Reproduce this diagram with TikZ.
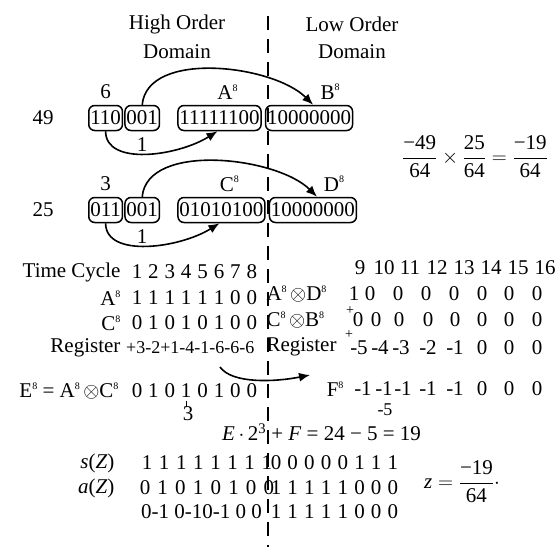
\documentclass[tikz,border=0pt]{standalone}
\usepackage{amsmath}
\usepackage{fontspec}
\setmainfont{Liberation Serif}
\usetikzlibrary{arrows.meta,positioning}

\newcommand{\pw}[1]{#1\raisebox{0.85ex}{\fontsize{10}{10}\selectfont 8}}
\newcommand{\fr}[2]{\dfrac{\text{#1}}{\text{#2}}}

\begin{document}
\begin{tikzpicture}[x=1pt, y=-1pt, >={Latex[length=11pt,width=9pt]},
  font=\fontsize{21}{23}\selectfont,
  bits/.style={draw, rounded corners=6pt, line width=1.5pt, inner xsep=1.5pt, inner ysep=0pt, minimum height=25pt},
  link/.style={->, line width=1.6pt},
  small/.style={font=\fontsize{14}{14}\selectfont, inner sep=0pt}]
  \useasboundingbox (0,0) rectangle (555,547);

  \coordinate (T) at (268,16);
  \coordinate (Bt) at (268,547);
  \draw[line width=1.6pt, dash pattern=on 14pt off 9pt] (T) -- (Bt);

  \node (hi1) at (177,24) {High Order};
  \node (hi2) at (177,52) {Domain};
  \node (lo1) at (352,24) {Low Order};
  \node (lo2) at (352,52) {Domain};

  % 49
  \node (n49) at (43,118) {49};
  \node[bits, anchor=west] (a1) at (88,118) {110};
  \node[bits, right=1pt of a1] (a2) {001};
  \node[bits, right=17pt of a2] (A) {11111100};
  \node[bits, right=3pt of A] (B) {10000000};
  \node[above=3pt of a1] (six) {6};
  \node[above=2pt of A, xshift=8pt] (lA) {\pw{A}};
  \node[above=2pt of B, xshift=21pt] (lB) {\pw{B}};
  \node[below=3pt of a2] (oneA) {1};
  \draw[link] (a2.north) .. controls +(5,-55) and +(-40,-40) .. ([xshift=4pt]B.north);
  \draw[link] (a1.south) .. controls +(0,35) and +(-40,25) .. ([xshift=-2pt]A.south);

  % 25
  \node (n25) at (43,210) {25};
  \node[bits, anchor=west] (c1) at (88,210) {011};
  \node[bits, right=1pt of c1] (c2) {001};
  \node[bits, right=17pt of c2] (C) {01010100};
  \node[bits, right=3pt of C] (D) {10000000};
  \node[above=3pt of c1] (three) {3};
  \node[above=2pt of C, xshift=8pt] (lC) {\pw{C}};
  \node[above=2pt of D, xshift=21pt] (lD) {\pw{D}};
  \node[below=3pt of c2] (oneC) {1};
  \draw[link] (c2.north) .. controls +(5,-55) and +(-40,-40) .. ([xshift=4pt]D.north);
  \draw[link] (c1.south) .. controls +(0,35) and +(-40,25) .. ([xshift=-2pt]C.south);

  \node (prod) at (475,157) {$\fr{−49}{64}\times\fr{25}{64}=\fr{−19}{64}$};

  % high order cycles
  \node[anchor=east] (tc) at (124,272) {Time Cycle};
  \foreach \v [count=\i] in {1,2,3,4,5,6,7,8}
    \node (t\i) at (120.6+16.4*\i,272) {\v};
  \node[anchor=east] (rA) at (124,298) {\pw{A}};
  \foreach \v [count=\i] in {1,1,1,1,1,1,0,0}
    \node (va\i) at (120.6+16.4*\i,298) {\v};
  \node[anchor=east] (rC) at (124,323) {\pw{C}};
  \foreach \v [count=\i] in {0,1,0,1,0,1,0,0}
    \node (vc\i) at (120.6+16.4*\i,323) {\v};
  \node[anchor=east] (rR) at (124,348) {Register};
  \node[anchor=west, inner sep=0pt, font=\fontsize{18}{18}\selectfont] (vr) at (126,348) {+3-2+1-4-1-6-6-6};
  \node[anchor=east] (rE) at (122,391) {\pw{E} = \pw{A}\,$\otimes$\pw{C}};
  \foreach \v [count=\i] in {0,1,0,1,0,1,0,0}
    \node (ve\i) at (120.6+16.4*\i,391) {\v};
  \coordinate (rs) at (220,367);
  \coordinate (re) at (310,375);
  \draw[link] (rs) .. controls (232,384) and (275,382) .. (re);
  \draw[line width=0.8pt] (ve4.south) -- ++(0,6);
  \node (shift) at (188,414) {3};

  % low order cycles
  \foreach \x/\v in {360/9,384/10,410/11,437/12,464/13,491/14,518/15,545/16}
    \node (h\v) at (\x,268) {\v};
  \node[anchor=west] (rAD) at (263,294) {\pw{A}\,$\otimes$\pw{D}};
  \foreach \x/\v [count=\i] in {354/1,370/0,398/0,426/0,454/0,482/0,509/0,537/0}
    \node (vad\i) at (\x,294) {\v};
  \node[anchor=west] (rCB) at (263,320) {\pw{C}\,$\otimes$\pw{B}};
  \node[small] (pl1) at (350,311) {+};
  \foreach \x/\v [count=\i] in {358/0,376/0,399/0,428/0,455/0,482/0,509/0,537/0}
    \node (vcb\i) at (\x,320) {\v};
  \node[anchor=west] (rR2) at (263,347) {Register};
  \node[small] (pl2) at (349,335) {+};
  \foreach \x/\v [count=\i] in {359/-5,380/-4,401/-3,428/-2,455/-1,482/0,509/0,537/0}
    \node (vr\i) at (\x,348) {\v};
  \node[anchor=east] (rF) at (347,389) {\pw{F}};
  \foreach \x/\v [count=\i] in {363/-1,384/-1,403/-1,428/-1,455/-1,482/0,509/0,537/0}
    \node (vf\i) at (\x,389) {\v};

  \node[anchor=west, inner sep=0pt] (sum) at (222,432) {\textit{E}\,$\cdot$\,2\textsuperscript{3} + \textit{F} = 24 − 5 = 19};
  \node[font=\fontsize{18}{18}\selectfont] (m5) at (385,410) {-5};

  % result
  \node[anchor=east] (sZ) at (118,463) {\textit{s}(\textit{Z})};
  \foreach \v [count=\i] in {1,1,1,1,1,1,1,1}
    \node (s\i) at (130+17.1*\i,463) {\v};
  \foreach \v [count=\i] in {0,0,0,0,0,1,1,1}
    \node (sl\i) at (259.3+16.7*\i,463) {\v};
  \node[anchor=east] (aZ) at (118,488) {\textit{a}(\textit{Z})};
  \foreach \v [count=\i] in {0,1,0,1,0,1,0,0}
    \node (a\i) at (127.3+17.7*\i,488) {\v};
  \foreach \v [count=\i] in {1,1,1,1,1,0,0,0}
    \node (al\i) at (259.3+16.7*\i,488) {\v};
  \node[anchor=west, inner sep=0pt] (d) at (141,512) {0-1 0-10-1 0 0};
  \foreach \v [count=\i] in {1,1,1,1,1,0,0,0}
    \node (dl\i) at (259.3+16.7*\i,512) {\v};

  \node (z) at (462,482) {$\text{\textit{z}}=\fr{−19}{64}\cdot$};
\end{tikzpicture}
\end{document}
